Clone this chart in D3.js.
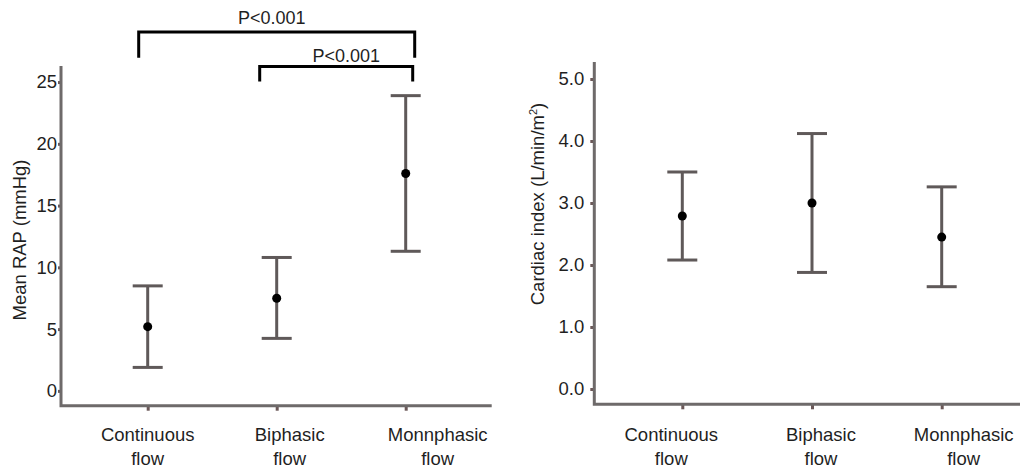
<!DOCTYPE html>
<html>
<head>
<meta charset="utf-8">
<script src="https://cdn.jsdelivr.net/npm/d3@7"></script>
<style>
  body { margin: 0; background: #fff; }
  text { font-family: "Liberation Sans", Arial, sans-serif; fill: #1f1f1f; }
</style>
</head>
<body>
<svg id="chart" width="1020" height="470"></svg>
<script>
// groups and values
const groups = ['Continuous flow', 'Biphasic flow', 'Monnphasic flow'];

const rapMean = [5.2, 7.5, 17.6];
const rapLow = [1.9, 4.25, 11.3];
const rapHigh = [8.5, 10.8, 23.9];
const rapTicks = [0, 5, 10, 15, 20, 25];

const ciMean = [2.79, 3.0, 2.45];
const ciLow = [2.08, 1.88, 1.65];
const ciHigh = [3.5, 4.12, 3.26];
const ciTicks = [0, 1, 2, 3, 4, 5];

const comparisons = [
  { from: 0, to: 2, label: 'P<0.001' },
  { from: 1, to: 2, label: 'P<0.001' },
];

const axisColor = '#6e6a6a';
const barColor = '#5f5959';
const fontSize = 18.5;

const svg = d3.select('#chart');
svg.append('rect').attr('width', 1020).attr('height', 470).attr('fill', '#fff');

function drawPanel(opt) {
  const { mean, low, high, ticks, fmt, yDomain, yRange, xRange, xLeft, xRight, tickPad, tickLen, labelShift, title, titleX, titleY } = opt;

  const x = d3.scalePoint().domain(groups).range(xRange);
  const y = d3.scaleLinear().domain(yDomain).range(yRange);
  const g = svg.append('g');

  // y axis
  const yAxis = g.append('g')
    .attr('transform', `translate(${xLeft},0)`)
    .call(d3.axisLeft(y).tickValues(ticks).tickFormat(fmt).tickSizeOuter(0).tickSize(tickLen).tickPadding(tickPad));
  yAxis.select('.domain').remove();
  yAxis.selectAll('.tick line').attr('stroke', '#6b5858').attr('stroke-width', 3);
  yAxis.selectAll('.tick text').style('font-size', fontSize + 'px').attr('fill', '#1f1f1f');

  // x ticks
  const xAxis = g.append('g')
    .attr('transform', `translate(0,${yRange[0]})`)
    .call(d3.axisBottom(x).tickSize(5).tickFormat(''));
  xAxis.select('.domain').remove();
  xAxis.selectAll('.tick line').attr('stroke', '#6b5858').attr('stroke-width', 3);

  // axis lines
  g.append('path')
    .attr('d', `M${xLeft},${yRange[1]}V${yRange[0]}H${xRight}`)
    .attr('fill', 'none')
    .attr('stroke', axisColor)
    .attr('stroke-width', 3);

  // category labels, two lines
  groups.forEach((name, i) => {
    const words = name.split(' ');
    const t = g.append('text')
      .attr('text-anchor', 'middle')
      .style('font-size', fontSize + 'px');
    words.forEach((w, j) => {
      t.append('tspan')
        .attr('x', x(name) + labelShift[i])
        .attr('y', 441 + j * 24)
        .text(w);
    });
  });

  // error bars
  const capW = 15;
  const bars = g.selectAll('.bar')
    .data(groups)
    .join('g')
    .attr('class', 'bar');
  bars.append('line')
    .attr('x1', d => x(d)).attr('x2', d => x(d))
    .attr('y1', (d, i) => y(low[i])).attr('y2', (d, i) => y(high[i]))
    .attr('stroke', barColor).attr('stroke-width', 3);
  bars.append('line')
    .attr('x1', d => x(d) - capW).attr('x2', d => x(d) + capW)
    .attr('y1', (d, i) => y(high[i])).attr('y2', (d, i) => y(high[i]))
    .attr('stroke', barColor).attr('stroke-width', 3);
  bars.append('line')
    .attr('x1', d => x(d) - capW).attr('x2', d => x(d) + capW)
    .attr('y1', (d, i) => y(low[i])).attr('y2', (d, i) => y(low[i]))
    .attr('stroke', barColor).attr('stroke-width', 3);
  bars.append('circle')
    .attr('cx', d => x(d))
    .attr('cy', (d, i) => y(mean[i]))
    .attr('r', 4.5)
    .attr('fill', '#000');

  // y title
  const tt = g.append('text')
    .attr('transform', `translate(${titleX},${titleY}) rotate(-90)`)
    .attr('text-anchor', 'middle')
    .style('font-size', fontSize + 'px');
  title(tt);

  return { x, y, g };
}

const left = drawPanel({
  mean: rapMean, low: rapLow, high: rapHigh,
  ticks: rapTicks, fmt: d3.format('d'),
  yDomain: [-1.2, 26.3], yRange: [405.7, 66],
  xRange: [147.7, 405.7], xLeft: 61, xRight: 491.7,
  tickPad: 1, tickLen: 3,
  labelShift: [0, 13, 32],
  title: t => t.text('Mean RAP (mmHg)'),
  titleX: 26, titleY: 240,
});

drawPanel({
  mean: ciMean, low: ciLow, high: ciHigh,
  ticks: ciTicks, fmt: d3.format('.1f'),
  yDomain: [-0.247, 5.274], yRange: [404.3, 62],
  xRange: [682.3, 941.7], xLeft: 594.3, xRight: 1020,
  tickPad: 6, tickLen: 4,
  labelShift: [-11, 9, 22],
  title: t => {
    t.append('tspan').text('Cardiac index (L/min/m');
    t.append('tspan').attr('dy', -7).style('font-size', '11px').text('2');
    t.append('tspan').attr('dy', 7).text(')');
  },
  titleX: 544, titleY: 204,
});

// significance brackets on the left panel
const bracketLevels = [
  { top: 29.06, drop: 26.96, padL: 9, padR: 9, labelDx: -5, labelDy: -8 },
  { top: 26.25, drop: 25.04, padL: 17, padR: 7, labelDx: 10, labelDy: -5 },
];
comparisons.forEach((c, i) => {
  const b = bracketLevels[i];
  const x1 = left.x(groups[c.from]) - b.padL;
  const x2 = left.x(groups[c.to]) + b.padR;
  const yt = left.y(b.top);
  const yd = left.y(b.drop);
  left.g.append('path')
    .attr('d', `M${x1},${yd}V${yt}H${x2}V${yd}`)
    .attr('fill', 'none')
    .attr('stroke', '#000')
    .attr('stroke-width', 3);
  left.g.append('text')
    .attr('x', (x1 + x2) / 2 + b.labelDx)
    .attr('y', yt + b.labelDy)
    .attr('text-anchor', 'middle')
    .style('font-size', '18px')
    .text(c.label);
});
</script>
</body>
</html>
